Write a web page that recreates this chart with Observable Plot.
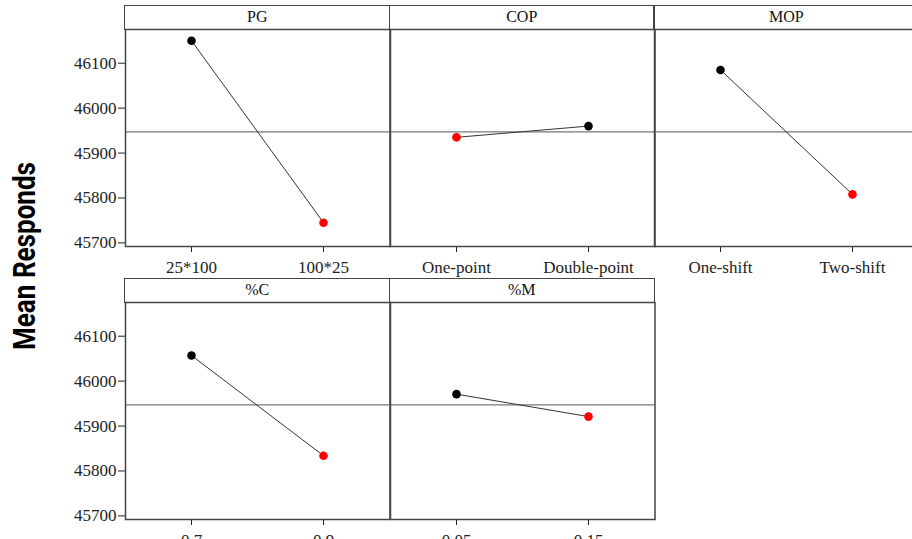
<!DOCTYPE html>
<html><head><meta charset="utf-8">
<script src="https://cdn.jsdelivr.net/npm/d3@7"></script>
<script src="https://cdn.jsdelivr.net/npm/@observablehq/plot@0.6"></script>
<style>
body{margin:0;background:#fff;}
#chart{position:relative;width:912px;height:539px;overflow:hidden;background:#fff;}
.hdr{position:absolute;box-sizing:border-box;border:1.5px solid #444;font-family:"Liberation Serif",serif;font-size:16px;color:#111;text-align:center;line-height:22px;}
.panel{position:absolute;}
#ylab{position:absolute;left:0;top:0;transform-origin:0 0;white-space:nowrap;font-family:Roboto,"Liberation Sans",sans-serif;font-weight:bold;font-size:31px;line-height:31px;color:#000;}
</style></head><body><div id="chart"></div><script>
// ---- data ----
const factors = ["PG", "COP", "MOP", "%C", "%M"];
const levels = [
  ["25*100", "100*25"],
  ["One-point", "Double-point"],
  ["One-shift", "Two-shift"],
  ["0.7", "0.9"],
  ["0.05", "0.15"]
];
const meanValues = [
  [46150, 45745],
  [45935, 45960],
  [46085, 45808],
  [46057, 45834],
  [45971, 45921]
];
const grandMean = 45947;
const yTicks = [45700, 45800, 45900, 46000, 46100];
const yLabel = "Mean Responds";

// ---- layout ----
const yDomain = [45692, 46175];
const panelLefts = [125, 389.5, 654, 125, 389.5];
const panelRow = [0, 0, 0, 1, 1];
const headerTops = [5, 278];
const headerH = 25;
const panelW = 264.5;
const plotH = 217;

const chart = document.getElementById("chart");

factors.forEach((f, i) => {
  const row = panelRow[i];
  const isLeft = panelLefts[i] === 125;
  const mL = isLeft ? 125 : 2, mR = 2, mT = 2, mB = 45;
  const data = levels[i].map((lv, j) => ({level: lv, value: meanValues[i][j]}));
  const minV = d3.min(meanValues[i]);

  const hdr = document.createElement("div");
  hdr.className = "hdr";
  hdr.textContent = f;
  hdr.style.left = (panelLefts[i] - 0.75) + "px";
  hdr.style.top = headerTops[row] + "px";
  hdr.style.width = (panelW + 1.5) + "px";
  hdr.style.height = headerH + "px";
  chart.appendChild(hdr);

  const p = Plot.plot({
    width: mL + panelW + mR,
    height: mT + plotH + mB,
    marginLeft: mL, marginRight: mR, marginTop: mT, marginBottom: mB,
    style: {background: "transparent", fontFamily: "Liberation Serif, serif", fontSize: "17px", color: "#222", overflow: "visible"},
    x: {type: "point", domain: levels[i], padding: 0.5, tickSize: 6, tickPadding: 8, label: null},
    y: {domain: yDomain, ticks: yTicks, tickFormat: d3.format("d"), tickSize: 7, tickPadding: 2, label: null, axis: isLeft ? "left" : null},
    marks: [
      Plot.ruleY([grandMean], {stroke: "#777", strokeWidth: 1.3}),
      Plot.line(data, {x: "level", y: "value", stroke: "#333", strokeWidth: 1}),
      Plot.dot(data, {x: "level", y: "value", r: 4.3, fill: d => d.value === minV ? "#ff0000" : "#000000", stroke: "none"}),
      Plot.frame({stroke: "#444", strokeWidth: 1.5})
    ]
  });
  p.classList.add("panel");
  p.style.left = (panelLefts[i] - mL) + "px";
  p.style.top = (headerTops[row] + headerH - 1 - mT) + "px";
  chart.appendChild(p);
});

const yl = document.createElement("span");
yl.id = "ylab";
yl.textContent = yLabel;
yl.style.transform = "translate(35px, 256px) rotate(-90deg) scale(0.84,1) translate(-50%, -26px)";
chart.appendChild(yl);
</script></body></html>
